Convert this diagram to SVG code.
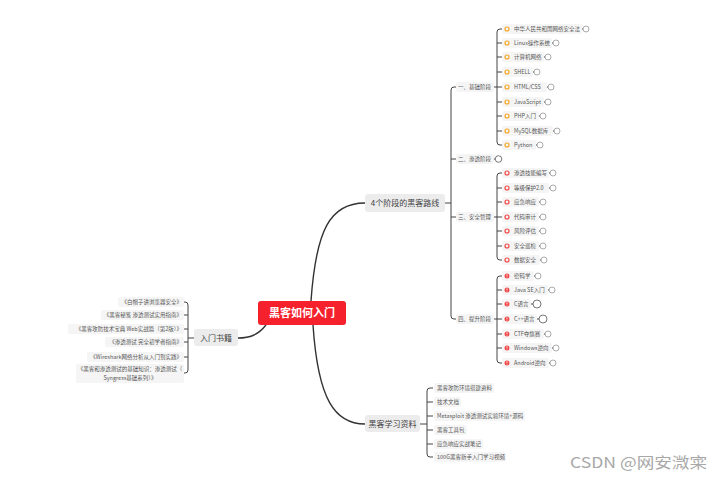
<svg xmlns="http://www.w3.org/2000/svg" width="720" height="485" viewBox="0 0 720 485">
<style>
text{font-family:"Noto Sans CJK SC","Noto Sans",sans-serif}
.main{stroke:#333;stroke-width:1.4;fill:none}
.br{stroke:#444;stroke-width:1;fill:none}
.tk{stroke:#444;stroke-width:1;fill:none}
.it{fill:#f5f5f5}
.t{font-size:5.5px;fill:#555}
.lb{fill:#ececec}
.n{font-size:8px;fill:#444}
.cc{fill:#fff;stroke:#888;stroke-width:0.7}
.cb{fill:#fff;stroke:#555;stroke-width:0.8}
.o{fill:none;stroke:#f5a623;stroke-width:1.2}
.r{fill:none;stroke:#f04848;stroke-width:1.2}
.rf{fill:#f04848}
</style>
<rect width="720" height="485" fill="#fff"/>
<g id="connectors">
<path class="main" d="M311 301 C316 230 330 203 365 203"/>
<path class="main" d="M313 325 C318 400 335 424 365 424"/>
<path class="main" d="M266 325 C258 335 250 338 238 338"/>
<path class="br" d="M445 203 H451 M457 87 H454 Q451 87 451 90 V316 Q451 319 454 319 H457 M451 159 H457 M451 217 H457"/>
<path class="br" d="M494 87 H497 M502 29 H500 Q497 29 497 32 V142 Q497 145 500 145 H502 M497 43 H502 M497 57 H502 M497 72 H502 M497 87 H502 M497 102 H502 M497 116 H502 M497 131 H502"/>
<path class="br" d="M494 217 H497 M502 173 H500 Q497 173 497 176 V257 Q497 260 500 260 H502 M497 188 H502 M497 202 H502 M497 217 H502 M497 231 H502 M497 246 H502"/>
<path class="br" d="M494 319 H497 M502 276 H500 Q497 276 497 279 V360 Q497 363 500 363 H502 M497 290 H502 M497 304 H502 M497 319 H502 M497 334 H502 M497 348 H502"/>
<path class="br" d="M494 159 H495"/>
<path class="br" d="M188 338 H194 M184 302 H185 Q188 302 188 305 V370 Q188 373 185 373 H184 M184 315 H188 M184 329 H188 M184 342 H188 M184 357 H188"/>
<path class="br" d="M420 424 H427 M433 388 H430 Q427 388 427 391 V454 Q427 457 430 457 H433 M427 402 H433 M427 416 H433 M427 430 H433 M427 444 H433"/>
</g>
<g id="root">
<rect x="258" y="301" width="88" height="24" rx="3" fill="#f5222d"/>
<text x="302" y="317" font-size="11" font-weight="bold" fill="#fff" text-anchor="middle">黑客如何入门</text>
</g>
<g id="route">
<rect class="lb" x="365" y="194" width="80" height="18" rx="3"/>
<text class="n" x="405" y="206" text-anchor="middle">4个阶段的黑客路线</text>
</g>
<g id="books">
<rect class="lb" x="194" y="329" width="44" height="17" rx="3"/>
<text class="n" x="216" y="340.5" text-anchor="middle">入门书籍</text>
</g>
<g id="materials">
<rect class="lb" x="365" y="415" width="55" height="17" rx="3"/>
<text class="n" x="392.5" y="426.5" font-size="7.5" text-anchor="middle">黑客学习资料</text>
</g>
<g id="stages">
<rect class="it" x="456" y="82" width="38" height="10" rx="2"/><text class="t" x="458" y="89">一、基础阶段</text>
<rect class="it" x="456" y="154" width="38" height="10" rx="2"/><text class="t" x="458" y="161">二、渗透阶段</text>
<circle cx="498.5" cy="159" r="3.3" class="cb"/>
<rect class="it" x="456" y="212" width="38" height="10" rx="2"/><text class="t" x="458" y="219">三、安全管理</text>
<rect class="it" x="456" y="314" width="38" height="10" rx="2"/><text class="t" x="458" y="321">四、提升阶段</text>
</g>
<g id="basic">
<g><rect class="it" x="502" y="24" width="80" height="10" rx="2"/><circle class="o" cx="507" cy="29" r="2"/><text class="t" x="514" y="31">中华人民共和国网络安全法</text><path class="tk" d="M582 29 H583"/><circle class="cc" cx="586" cy="29" r="3"/></g>
<g><rect class="it" x="502" y="38" width="50" height="10" rx="2"/><circle class="o" cx="507" cy="43" r="2"/><text class="t" x="514" y="45">Linux操作系统</text><path class="tk" d="M552 43 H553"/><circle class="cc" cx="556" cy="43" r="3"/></g>
<g><rect class="it" x="502" y="52" width="42" height="10" rx="2"/><circle class="o" cx="507" cy="57" r="2"/><text class="t" x="514" y="59">计算机网络</text><path class="tk" d="M544 57 H545"/><circle class="cc" cx="548" cy="57" r="3"/></g>
<g><rect class="it" x="502" y="67" width="31" height="10" rx="2"/><circle class="o" cx="507" cy="72" r="2"/><text class="t" x="514" y="74">SHELL</text><path class="tk" d="M533 72 H534"/><circle class="cc" cx="537" cy="72" r="3"/></g>
<g><rect class="it" x="502" y="82" width="45" height="10" rx="2"/><circle class="o" cx="507" cy="87" r="2"/><text class="t" x="514" y="89">HTML/CSS</text><path class="tk" d="M547 87 H548"/><circle class="cc" cx="551" cy="87" r="3"/></g>
<g><rect class="it" x="502" y="97" width="42" height="10" rx="2"/><circle class="o" cx="507" cy="102" r="2"/><text class="t" x="514" y="104">JavaScript</text><path class="tk" d="M544 102 H545"/><circle class="cc" cx="548" cy="102" r="3"/></g>
<g><rect class="it" x="502" y="111" width="37" height="10" rx="2"/><circle class="o" cx="507" cy="116" r="2"/><text class="t" x="514" y="118">PHP入门</text><path class="tk" d="M539 116 H540"/><circle class="cc" cx="543" cy="116" r="3"/></g>
<g><rect class="it" x="502" y="126" width="51" height="10" rx="2"/><circle class="o" cx="507" cy="131" r="2"/><text class="t" x="514" y="133">MySQL数据库</text><path class="tk" d="M553 131 H554"/><circle class="cc" cx="557" cy="131" r="3"/></g>
<g><rect class="it" x="502" y="140" width="34" height="10" rx="2"/><circle class="o" cx="507" cy="145" r="2"/><text class="t" x="514" y="147">Python</text><path class="tk" d="M536 145 H537"/><circle class="cc" cx="540" cy="145" r="3"/></g>
</g>
<g id="security">
<g><rect class="it" x="502" y="168" width="47" height="10" rx="2"/><circle class="r" cx="507" cy="173" r="2"/><text class="t" x="514" y="175">渗透技能编写</text><path class="tk" d="M549 173 H550"/><circle class="cc" cx="553" cy="173" r="3"/></g>
<g><rect class="it" x="502" y="183" width="47" height="10" rx="2"/><circle class="r" cx="507" cy="188" r="2"/><text class="t" x="514" y="190">等级保护2.0</text><path class="tk" d="M549 188 H550"/><circle class="cc" cx="553" cy="188" r="3"/></g>
<g><rect class="it" x="502" y="197" width="37" height="10" rx="2"/><circle class="r" cx="507" cy="202" r="2"/><text class="t" x="514" y="204">应急响应</text><path class="tk" d="M539 202 H540"/><circle class="cc" cx="543" cy="202" r="3"/></g>
<g><rect class="it" x="502" y="212" width="37" height="10" rx="2"/><circle class="r" cx="507" cy="217" r="2"/><text class="t" x="514" y="219">代码审计</text><path class="tk" d="M539 217 H540"/><circle class="cc" cx="543" cy="217" r="3"/></g>
<g><rect class="it" x="502" y="226" width="37" height="10" rx="2"/><circle class="r" cx="507" cy="231" r="2"/><text class="t" x="514" y="233">风险评估</text><path class="tk" d="M539 231 H540"/><circle class="cc" cx="543" cy="231" r="3"/></g>
<g><rect class="it" x="502" y="241" width="37" height="10" rx="2"/><circle class="r" cx="507" cy="246" r="2"/><text class="t" x="514" y="248">安全巡检</text><path class="tk" d="M539 246 H540"/><circle class="cc" cx="543" cy="246" r="3"/></g>
<g><rect class="it" x="502" y="255" width="38" height="10" rx="2"/><circle class="r" cx="507" cy="260" r="2"/><text class="t" x="514" y="262">数据安全</text><path class="tk" d="M540 260 H541"/><circle class="cc" cx="544" cy="260" r="3"/></g>
</g>
<g id="advanced">
<g><rect class="it" x="502" y="271" width="32" height="10" rx="2"/><circle class="rf" cx="507" cy="276" r="2.5"/><rect x="506.6" y="274.3" width="0.8" height="2" fill="#fff"/><rect x="506.6" y="276.9" width="0.8" height="0.7" fill="#fff"/><text class="t" x="514" y="278">密码学</text><path class="tk" d="M534 276 H535"/><circle class="cc" cx="538" cy="276" r="3"/></g>
<g><rect class="it" x="502" y="285" width="46" height="10" rx="2"/><circle class="rf" cx="507" cy="290" r="2.5"/><rect x="506.6" y="288.3" width="0.8" height="2" fill="#fff"/><rect x="506.6" y="290.9" width="0.8" height="0.7" fill="#fff"/><text class="t" x="514" y="292">Java SE入门</text><path class="tk" d="M548 290 H549"/><circle class="cc" cx="552" cy="290" r="3"/></g>
<g><rect class="it" x="502" y="299" width="29" height="10" rx="2"/><circle class="rf" cx="507" cy="304" r="2.5"/><rect x="506.6" y="302.3" width="0.8" height="2" fill="#fff"/><rect x="506.6" y="304.9" width="0.8" height="0.7" fill="#fff"/><text class="t" x="514" y="306">C语言</text><path class="tk" d="M531 304 H533"/><circle class="cb" cx="537" cy="304" r="4"/></g>
<g><rect class="it" x="502" y="314" width="35" height="10" rx="2"/><circle class="rf" cx="507" cy="319" r="2.5"/><rect x="506.6" y="317.3" width="0.8" height="2" fill="#fff"/><rect x="506.6" y="319.9" width="0.8" height="0.7" fill="#fff"/><text class="t" x="514" y="321">C++语言</text><path class="tk" d="M537 319 H539"/><circle class="cb" cx="543" cy="319" r="4"/></g>
<g><rect class="it" x="502" y="329" width="42" height="10" rx="2"/><circle class="rf" cx="507" cy="334" r="2.5"/><rect x="506.6" y="332.3" width="0.8" height="2" fill="#fff"/><rect x="506.6" y="334.9" width="0.8" height="0.7" fill="#fff"/><text class="t" x="514" y="336">CTF夺旗赛</text><path class="tk" d="M544 334 H545"/><circle class="cc" cx="548" cy="334" r="3"/></g>
<g><rect class="it" x="502" y="343" width="50" height="10" rx="2"/><circle class="rf" cx="507" cy="348" r="2.5"/><rect x="506.6" y="346.3" width="0.8" height="2" fill="#fff"/><rect x="506.6" y="348.9" width="0.8" height="0.7" fill="#fff"/><text class="t" x="514" y="350">Windows逆向</text><path class="tk" d="M552 348 H553"/><circle class="cc" cx="556" cy="348" r="3"/></g>
<g><rect class="it" x="502" y="358" width="47" height="10" rx="2"/><circle class="rf" cx="507" cy="363" r="2.5"/><rect x="506.6" y="361.3" width="0.8" height="2" fill="#fff"/><rect x="506.6" y="363.9" width="0.8" height="0.7" fill="#fff"/><text class="t" x="514" y="365">Android逆向</text><path class="tk" d="M549 363 H550"/><circle class="cc" cx="553" cy="363" r="3"/></g>
</g>
<g id="booklist">
<rect class="it" x="118" y="297" width="66" height="10" rx="2"/><text class="t" x="182" y="304" text-anchor="end">《白帽子讲浏览器安全》</text>
<rect class="it" x="101" y="310" width="83" height="10" rx="2"/><text class="t" x="182" y="317" text-anchor="end">《黑客秘笈 渗透测试实用指南》</text>
<rect class="it" x="68" y="324" width="116" height="10" rx="2"/><text class="t" x="182" y="331" text-anchor="end">《黑客攻防技术宝典 Web实战篇（第2版）》</text>
<rect class="it" x="105" y="337" width="79" height="10" rx="2"/><text class="t" x="182" y="344" text-anchor="end">《渗透测试 完全初学者指南》</text>
<rect class="it" x="87" y="352" width="97" height="10" rx="2"/><text class="t" x="182" y="359" text-anchor="end">《Wireshark网络分析从入门到实践》</text>
<rect class="it" x="76" y="364" width="108" height="19" rx="2"/><text class="t" x="130" y="371" text-anchor="middle">《黑客和渗透测试的基础知识：渗透测试（</text><text class="t" x="130" y="380" text-anchor="middle">Syngress基础系列）》</text>
</g>
<g id="resources">
<rect class="it" x="434" y="383" width="60" height="10" rx="2"/><text class="t" x="437" y="390">黑客攻防环境搭建资料</text>
<rect class="it" x="434" y="397" width="27" height="10" rx="2"/><text class="t" x="437" y="404">技术文档</text>
<rect class="it" x="434" y="411" width="91" height="10" rx="2"/><text class="t" x="437" y="418">Metasploit 渗透测试实验环境+源码</text>
<rect class="it" x="434" y="425" width="33" height="10" rx="2"/><text class="t" x="437" y="432">黑客工具包</text>
<rect class="it" x="434" y="439" width="49" height="10" rx="2"/><text class="t" x="437" y="446">应急响应实战笔记</text>
<rect class="it" x="434" y="452" width="72" height="10" rx="2"/><text class="t" x="437" y="459">100G黑客新手入门学习视频</text>
</g>
<text x="570" y="468" font-size="15" fill="#a8a8a8" textLength="137" lengthAdjust="spacingAndGlyphs">CSDN @网安溦寀</text>
</svg>
